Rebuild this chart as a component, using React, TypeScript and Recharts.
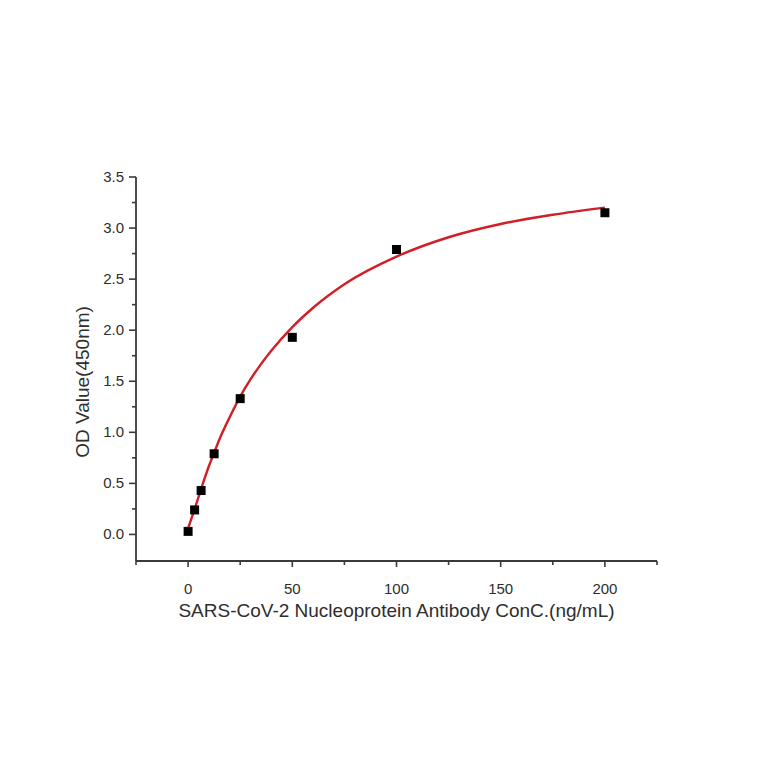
import React from "react";
import { ComposedChart, Line, Scatter, XAxis, YAxis, ZAxis } from "recharts";

// measured standards (OD at 450 nm)
const concentrations = [0, 3.125, 6.25, 12.5, 25, 50, 100, 200];
const odValues = [0.03, 0.24, 0.43, 0.79, 1.33, 1.93, 2.79, 3.15];

// fitted curve
const fitConc = [0, 3, 6, 10, 12.5, 15, 20, 25, 30, 40, 50, 60, 75, 100, 125, 150, 175, 200];
const fitOd = [0.06, 0.24, 0.43, 0.67, 0.8, 0.93, 1.15, 1.35, 1.52, 1.8, 2.03, 2.22, 2.45, 2.72, 2.91, 3.04, 3.13, 3.2];

const xTicks = [-25, 0, 25, 50, 75, 100, 125, 150, 175, 200, 225];
const yTicks = [0, 0.25, 0.5, 0.75, 1, 1.25, 1.5, 1.75, 2, 2.25, 2.5, 2.75, 3, 3.25, 3.5];

const AXIS = "#3a3a3a";
const TEXT = "#2e2e2e";
const FONT = "'Liberation Sans', Arial, sans-serif";

const points = concentrations.map((x, i) => ({ x, y: odValues[i] }));
const curve = fitConc.map((x, i) => ({ x, y: fitOd[i] }));

function YTick(props: any) {
  const { x, y, payload } = props;
  const v = payload.value as number;
  const major = Math.abs(v * 2 - Math.round(v * 2)) < 1e-6;
  return (
    <g>
      <line x1={x} x2={x - (major ? 7 : 4)} y1={y} y2={y} stroke={AXIS} strokeWidth={1.6} />
      {major && (
        <text x={x - 12} y={y} dy={5} textAnchor="end" fontSize={15} fill={TEXT} fontFamily={FONT}>
          {v.toFixed(1)}
        </text>
      )}
    </g>
  );
}

function XTick(props: any) {
  const { x, y, payload } = props;
  const v = payload.value as number;
  const major = v % 50 === 0;
  return (
    <g>
      <line x1={x} x2={x} y1={y} y2={y + (major ? 6 : 4)} stroke={AXIS} strokeWidth={1.6} />
      {major && (
        <text x={x} y={y + 33} textAnchor="middle" fontSize={15} fill={TEXT} fontFamily={FONT}>
          {v}
        </text>
      )}
    </g>
  );
}

export default function App() {
  return (
    <div style={{ width: 756, height: 756, background: "#fff" }}>
      <ComposedChart
        width={756}
        height={756}
        margin={{ top: 169, right: 107, bottom: 143, left: 68 }}
      >
        <XAxis
          type="number"
          dataKey="x"
          domain={[-25, 225]}
          ticks={xTicks}
          interval={0}
          allowDataOverflow
          height={60}
          tickSize={0}
          tickMargin={0}
          tickLine={false}
          tick={<XTick />}
          axisLine={{ stroke: AXIS, strokeWidth: 1.8 }}
          label={{
            value: "SARS-CoV-2 Nucleoprotein Antibody ConC.(ng/mL)",
            position: "insideBottom",
            offset: 0,
            dy: -4,
            fontSize: 19,
            fill: TEXT,
            fontFamily: FONT,
          }}
        />
        <YAxis
          type="number"
          dataKey="y"
          domain={[-0.26, 3.5]}
          ticks={yTicks}
          interval={0}
          allowDataOverflow
          width={60}
          tickSize={0}
          tickMargin={0}
          tickLine={false}
          tick={<YTick />}
          axisLine={{ stroke: AXIS, strokeWidth: 1.8 }}
          label={{
            value: "OD Value(450nm)",
            angle: -90,
            position: "center",
            dx: -24,
            dy: 13,
            fontSize: 19,
            fill: TEXT,
            fontFamily: FONT,
          }}
        />
        <ZAxis range={[81, 81]} />
        <Line
          data={curve}
          dataKey="y"
          type="monotone"
          stroke="#d01f26"
          strokeWidth={2.4}
          dot={false}
          activeDot={false}
          isAnimationActive={false}
        />
        <Scatter data={points} dataKey="y" shape="square" fill="#000" isAnimationActive={false} />
      </ComposedChart>
    </div>
  );
}
